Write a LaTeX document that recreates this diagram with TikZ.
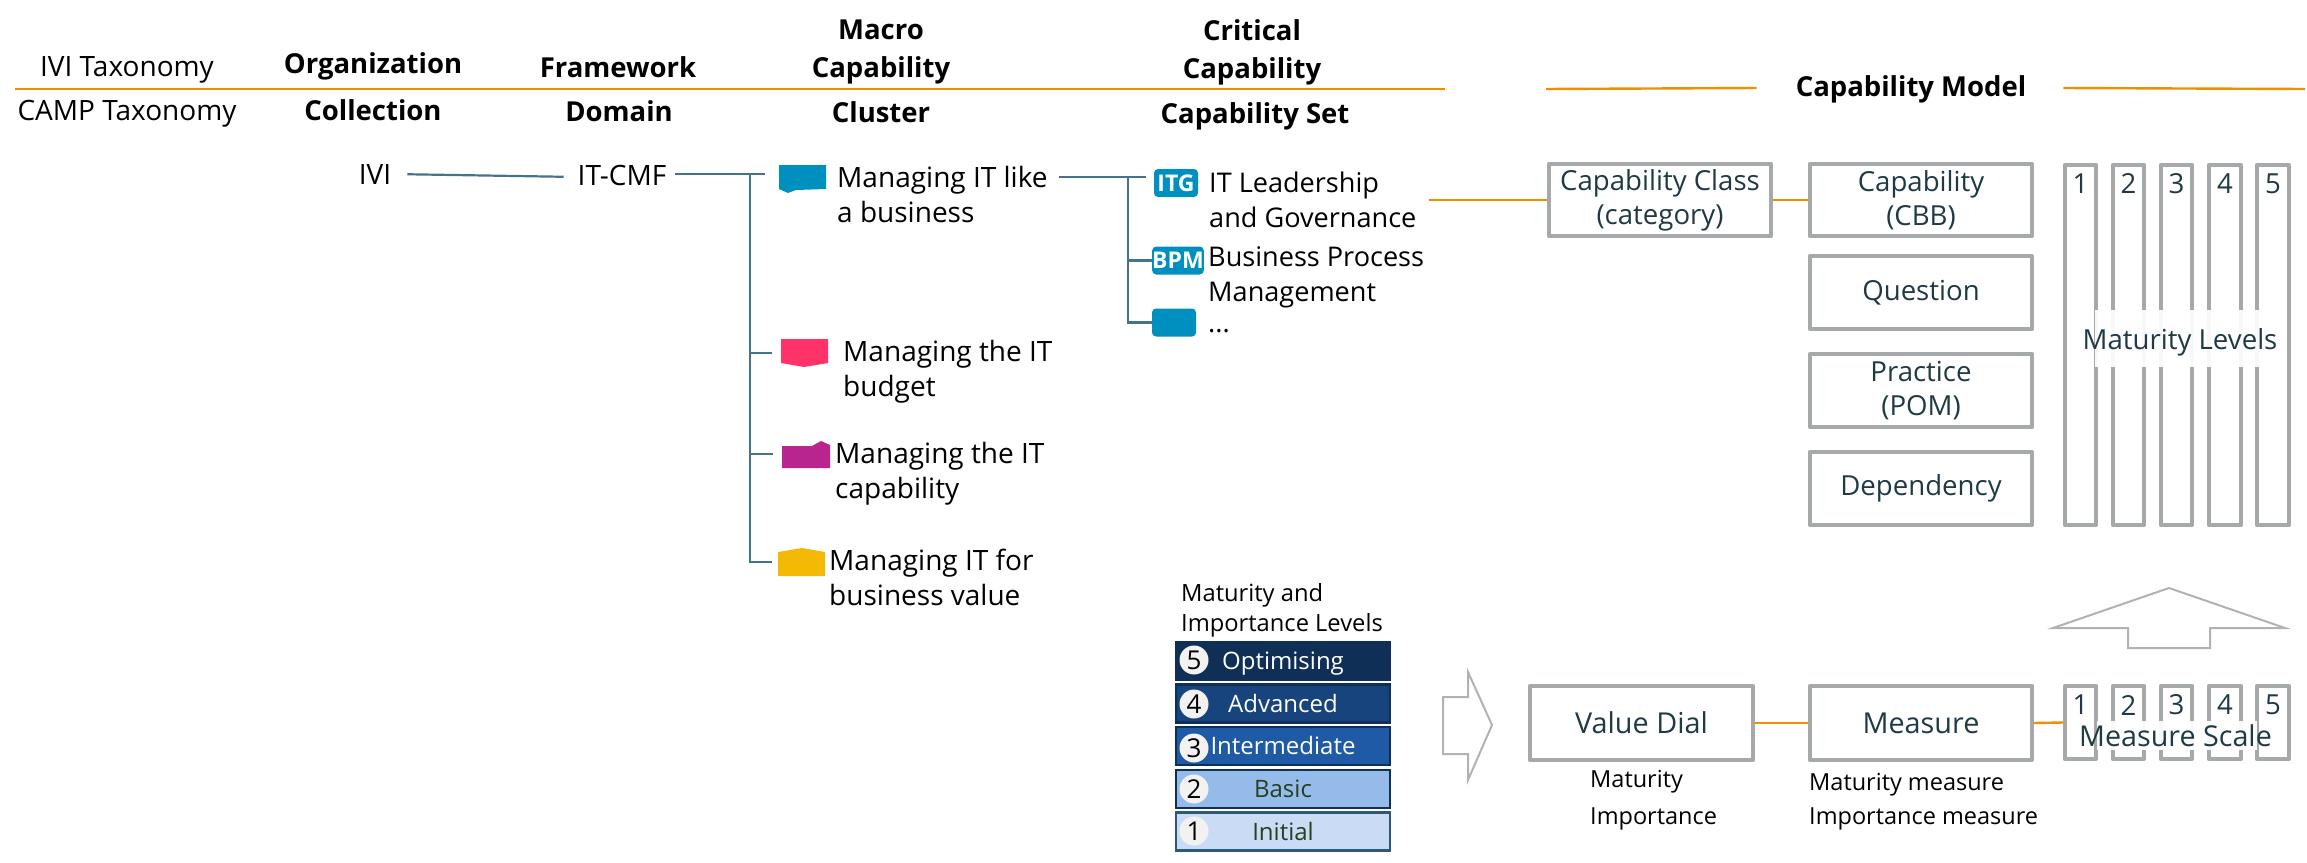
\documentclass[tikz,border=0pt]{standalone}
\usepackage{fontspec}
\setmainfont{Open Sans}
\usetikzlibrary{positioning}
\definecolor{orangeln}{HTML}{EF8F00}
\definecolor{tealln}{HTML}{44738A}
\definecolor{grayln}{HTML}{A6A9A9}
\definecolor{inktxt}{HTML}{1F3A44}
\definecolor{flagblue}{HTML}{0090C0}
\definecolor{flagpink}{HTML}{FF3369}
\definecolor{flagpurple}{HTML}{B9258F}
\definecolor{flagyellow}{HTML}{F4B905}
\definecolor{barfive}{HTML}{0F2F57}
\definecolor{barfour}{HTML}{17447C}
\definecolor{barthree}{HTML}{1E5AA6}
\definecolor{bartwo}{HTML}{95BBEA}
\definecolor{barone}{HTML}{CADCF5}
\definecolor{darkgreen}{HTML}{26401F}
\newcommand{\fsz}[2]{\fontsize{#1}{#2}\selectfont}
\tikzset{
  x=1pt,y=-1pt,
  txt/.style={inner sep=0pt,font=\fsz{28}{35},text=black},
  head/.style={inner sep=0pt,font=\fsz{27.5}{38}\bfseries,text=black,align=center},
  two/.style={txt,anchor=west,align=left},
  setname/.style={two,font=\fsz{27.1}{35}},
  small/.style={inner sep=0pt,font=\fsz{23.5}{30},text=black,anchor=west,align=left},
  orangeline/.style={draw=orangeln,line width=2.4pt},
  tealline/.style={draw=tealln,line width=2.2pt},
  modelbox/.style={draw=grayln,line width=4.4pt,line join=round,inner sep=0pt,align=center,
    font=\fsz{27.6}{34},text=inktxt,minimum width=222pt,minimum height=72pt},
  column/.style={draw=grayln,line width=4.4pt,line join=round,inner sep=0pt,minimum width=31pt},
  digit/.style={inner sep=0pt,font=\fsz{27.6}{34},text=inktxt},
  icon/.style={fill=flagblue,rounded corners=4pt,inner sep=0pt,minimum width=44pt,minimum height=28pt,
    font=\fsz{23}{25}\bfseries,text=white},
  flag/.style={inner sep=0pt,minimum width=47pt,minimum height=26pt},
  bar/.style={inner sep=0pt,minimum width=214pt,minimum height=38pt,line width=2.4pt,font=\fsz{24}{30},
    text height=17.5pt,text depth=0pt},
  disc/.style={circle,fill=black!5,inner sep=0pt,minimum size=29pt,font=\fsz{26}{30},text=black},
  hollow/.style={draw=black!30,line width=2pt,fill=white},
  veil/.style={fill=white,opacity=.93,inner sep=0pt}
}
\begin{document}
\begin{tikzpicture}
\useasboundingbox (0,0) rectangle (2307,862);
% taxonomy header
\coordinate (ruleL) at (15,89);
\coordinate (ruleR) at (1445,89);
\draw[orangeline] (ruleL) -- (ruleR);
\node[txt] (ivitax) at (127,70) {IVI Taxonomy};
\node[txt] (camptax) at (127,114) {CAMP Taxonomy};
\node[head] (org) at (373,66) {Organization};
\node[head] (fw) at (618,67) {Framework};
\node[head] (macro) at (881,52) {Macro\\Capability};
\node[head] (crit) at (1252,52) {Critical\\Capability};
\node[head] (coll) at (373,110) {Collection};
\node[head] (dom) at (619,111) {Domain};
\node[head] (clu) at (881,112) {Cluster};
\node[head] (cset) at (1255,116) {Capability Set};
% capability-model header
\node[head] (cmodel) at (1911,89) {Capability Model};
\coordinate (cmL) at (1546,89);
\coordinate (cmR) at (2305,89);
\draw[orangeline] (cmL) -- ([xshift=-39pt,yshift=1pt]cmodel.west);
\draw[orangeline] ([xshift=37pt,yshift=1pt]cmodel.east) -- (cmR);
% tree
\node[txt] (ivi) at (375,175) {IVI};
\node[txt] (itcmf) at (622,175) {IT-CMF};
\draw[tealline,shorten <=16pt,shorten >=14pt] ([yshift=1pt]ivi.east) -- ([yshift=-2pt]itcmf.west);
\node[flag] (fA) at (802.5,179) {};
\node[flag] (fB) at (804.5,353) {};
\node[flag,minimum width=48pt] (fC) at (806,454) {};
\node[flag] (fD) at (801.5,562) {};
\fill[flagblue] (779,165) -- (826,165) -- (826,189) -- (796,190) -- (788,193) -- (779,189) -- cycle;
\fill[flagpink] (781,339) -- (828,339) -- (828,363) -- (804,367) -- (781,363) -- cycle;
\fill[flagpurple] (782,446) -- (812,446) -- (821,441) -- (830,445) -- (830,468) -- (782,468) -- cycle;
\fill[flagyellow] (778,552) -- (802,548) -- (825,552) -- (825,576) -- (778,576) -- cycle;
\coordinate (trunkTop) at (750,174);
\draw[tealline,shorten <=9pt] (itcmf.east |- trunkTop) -- (trunkTop) -- +(15,0);
\draw[tealline,shorten >=6pt] (trunkTop) |- (fD.west);
\draw[tealline,shorten >=9pt] (trunkTop |- fB.west) -- (fB.west);
\draw[tealline,shorten >=9pt] (trunkTop |- fC.west) -- (fC.west);
\node[two] (tA) at (837,194) {Managing IT like\\a business};
\node[two] (tB) at (843,372) {Managing the IT\\budget};
\node[two] (tC) at (835,474) {Managing the IT\\capability};
\node[two] (tD) at (829,577) {Managing IT for\\business value};
% capability sets
\node[icon] (itg) at (1176,183) {ITG};
\node[icon] (bpm) at (1178,260.5) {BPM};
\node[icon] (more) at (1174,322.5) {};
\coordinate (setTrunk) at (1128,177);
\draw[tealline,shorten <=11pt] (tA.east |- setTrunk) -- (setTrunk) -- +(18,0);
\draw[tealline] (setTrunk) |- (more.west);
\draw[tealline] (setTrunk |- bpm.west) -- (bpm.west);
\node[setname] (titg) at (1209,200) {IT Leadership\\and Governance};
\node[setname] (tbpm) at (1208,277) {Business Process\\Management};
\node[setname] (tmore) at (1208,331) {...};
% capability model
\node[modelbox] (class) at (1660,200) {Capability Class\\(category)};
\node[modelbox] (cap) at (1921,200) {Capability\\(CBB)};
\node[modelbox,minimum height=73pt] (q) at (1921,292.5) {Question};
\node[modelbox,minimum height=73pt] (p) at (1921,390.5) {Practice\\(POM)};
\node[modelbox,minimum height=73pt] (d) at (1921,488.5) {Dependency};
\draw[orangeline] (titg.east |- class.west) ++(12,0) coordinate (setOut) -- (class.west);
\draw[orangeline] (class.east) -- (cap.west);
\foreach \n/\cx/\w in {1/2080.5/31,2/2128.5/31,3/2176.5/31,4/2225/32,5/2273/32}{
  \node[column,minimum width=\w pt,minimum height=360pt] (mc\n) at (\cx,345) {};
  \node[digit] (md\n) at (\cx,184) {\n};
  \node[column,minimum width=\w pt,minimum height=73pt] (sc\n) at (\cx,722.5) {};
  \node[digit] (sd\n) at (\cx,705) {\n};
}
\node[veil,minimum width=164pt,minimum height=57pt] (veilM) at (2177,338.5) {};
\node[digit] (mlev) at (2180,342) {Maturity Levels};
\node[veil,minimum width=160pt,minimum height=29pt] (veilS) at (2176.5,735.5) {};
\node[digit,font=\fsz{28.7}{34}] (mscale) at (2175.5,736) {Measure Scale};
% lower row
\node[modelbox,minimum height=74pt,minimum width=223pt,font=\fsz{28.8}{34}] (vd) at (1641.5,723) {Value Dial};
\node[modelbox,minimum height=74pt,font=\fsz{28.8}{34}] (ms) at (1921,723) {Measure};
\draw[orangeline] (vd.east) -- (ms.west);
\draw[orangeline] (ms.east) -- (sc1.west);
\node[small] (mat) at (1590,782) {Maturity};
\node[small] (imp) at (1590,819) {Importance};
\node[small] (mm) at (1809,785) {Maturity measure};
\node[small] (im) at (1809,819) {Importance measure};
% arrows
\draw[hollow] (2128,648) -- (2210,648) -- (2210,628) -- (2285,628) -- (2169,588) -- (2053,628) -- (2128,628) -- cycle;
\draw[hollow] (1443,697) -- (1468,697) -- (1468,672) -- (1492,725) -- (1468,780) -- (1468,754) -- (1443,754) -- cycle;
% levels
\node[small,font=\fsz{23.7}{30}] (lt) at (1181,610) {Maturity and\\Importance Levels};
\node[bar,fill=barfive,text=white,minimum height=40pt,minimum width=216pt] (b5) at (1283,661) {Optimising};
\node[bar,draw=barfive,fill=barfour,text=white] (b4) at (1283,703.5) {Advanced};
\node[bar,draw=barfive,fill=barthree,text=white] (b3) at (1283,746) {Intermediate};
\node[bar,draw=barfive,fill=bartwo,text=darkgreen] (b2) at (1283,789) {Basic};
\node[bar,draw=tealln!60!barfive,fill=barone,text=darkgreen] (b1) at (1283,831.5) {Initial};
\node[disc] (c5) at (1194,660) {5};
\node[disc] (c4) at (1194,704) {4};
\node[disc] (c3) at (1194,748) {3};
\node[disc] (c2) at (1194,789) {2};
\node[disc] (c1) at (1194,831) {1};
\end{tikzpicture}
\end{document}
